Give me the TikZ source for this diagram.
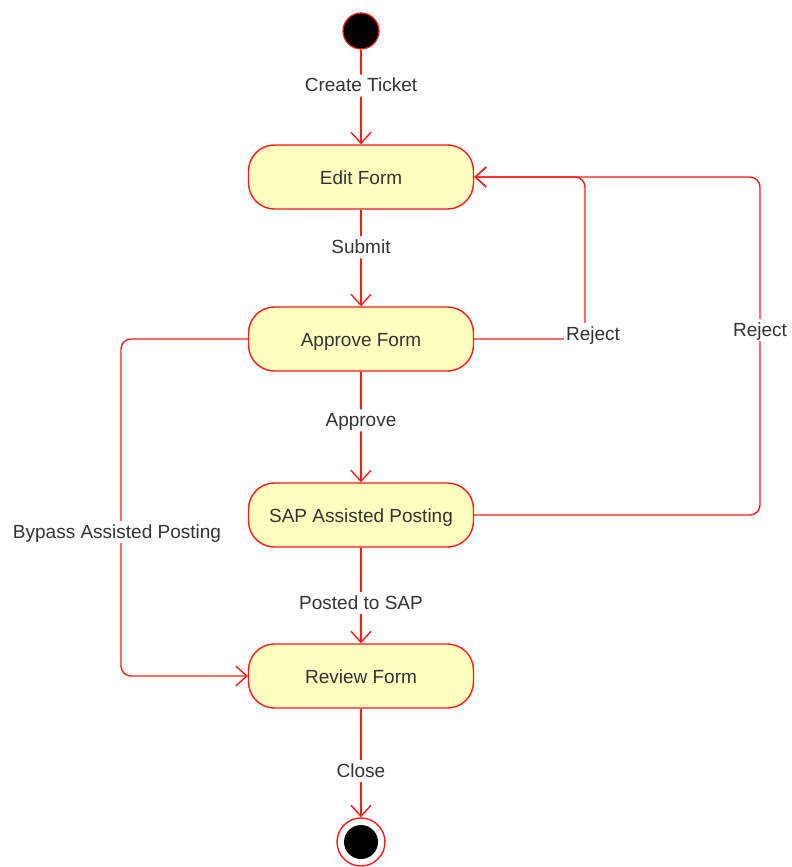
\documentclass[tikz,border=0pt]{standalone}
\usepackage{fontspec}
\setmainfont{Liberation Sans}
\usetikzlibrary{arrows.meta}
\definecolor{flowred}{HTML}{FF1A1A}
\definecolor{statefill}{HTML}{FFFFC0}
\definecolor{labeltext}{HTML}{333333}
\begin{document}
\begin{tikzpicture}[x=1pt,y=-1pt,
  statebox/.style={draw=flowred, fill=statefill, rounded corners=26pt,
    minimum width=225pt, minimum height=64pt, line width=1.4pt,
    text height=17pt, text depth=2pt,
    font=\fontsize{19}{23}\selectfont, text=labeltext},
  flow/.style={draw=flowred, line width=1.4pt, rounded corners=10pt,
    -{Straight Barb[length=11pt,width=20pt,line width=1.4pt]}},
  edgelabel/.style={fill=white, inner sep=2pt, text=labeltext,
    text height=15pt, text depth=3pt,
    font=\fontsize{19}{23}\selectfont}]
\useasboundingbox (0,0) rectangle (792,867);

% start and end markers
\node (start) [circle, draw=flowred, fill=black, line width=1.2pt,
  minimum size=36pt, inner sep=0pt] at (361,31) {};
\node (finish) [circle, draw=flowred, fill=white, line width=1.4pt,
  minimum size=48pt, inner sep=0pt] at (361,842) {};
\node (finishdot) [circle, fill=black, minimum size=34pt, inner sep=0pt]
  at (361,842) {};

% states
\node (edit)    [statebox] at (361,177) {Edit Form};
\node (approve) [statebox] at (361,339) {Approve Form};
\node (sap)     [statebox] at (361,515) {SAP Assisted Posting};
\node (review)  [statebox] at (361,676) {Review Form};

% main flow
\draw[flow] (start) -- node[edgelabel, pos=0.38] {Create Ticket} (edit);
\draw[flow] (edit) -- node[edgelabel, pos=0.39] {Submit} (approve);
\draw[flow] (approve) -- node[edgelabel, pos=0.44] {Approve} (sap);
\draw[flow] (sap) -- node[edgelabel, pos=0.58] {Posted to SAP} (review);
\draw[flow] (review) -- node[edgelabel, pos=0.575] {Close} (finish);

% reject loops back to the form
\coordinate (rejA) at (585,339);
\coordinate (rejB) at (760,515);
\draw[flow] (sap.east) -- (rejB) |- (edit.east);
\draw[flow] (approve.east) -- (rejA) |- (edit.east);
\node (rejlabA) [edgelabel] at (593,334) {Reject};
\node (rejlabB) [edgelabel] at (760,330) {Reject};

% bypass route
\coordinate (byp) at (121,339);
\draw[flow] (approve.west) -- (byp) |- (review.west);
\node (byplabel) [edgelabel] at (117,532) {Bypass Assisted Posting};
\end{tikzpicture}
\end{document}
